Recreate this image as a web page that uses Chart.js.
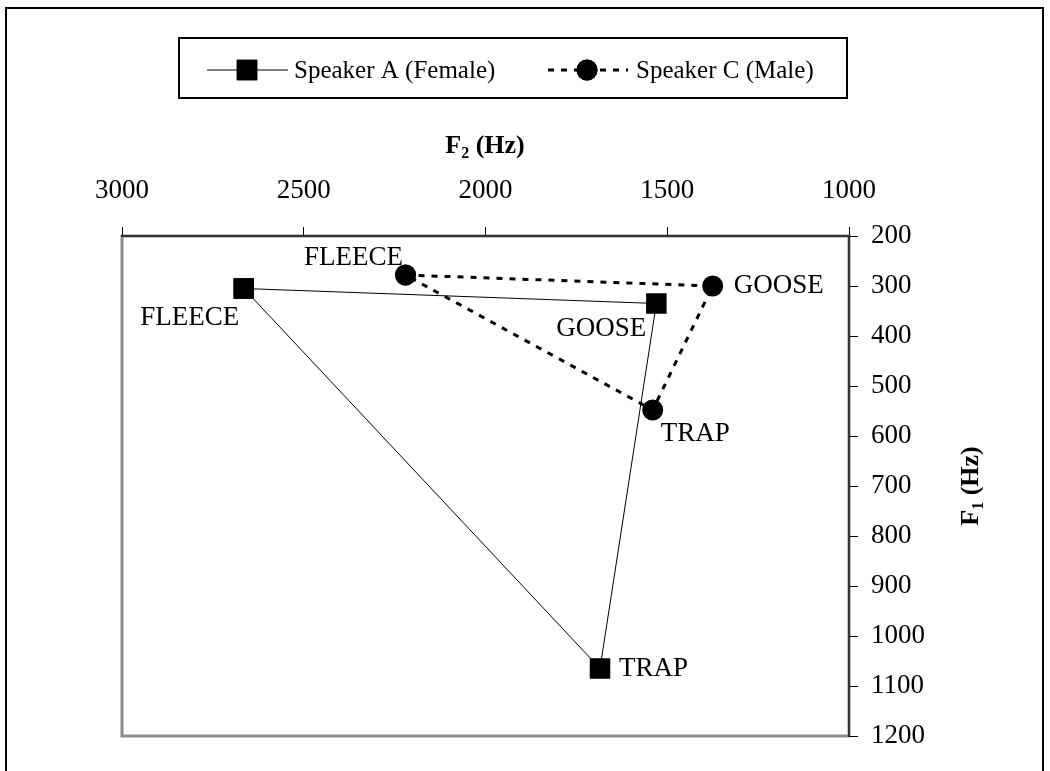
<!DOCTYPE html>
<html>
<head>
<meta charset="utf-8">
<script src="https://cdn.jsdelivr.net/npm/chart.js@4/dist/chart.umd.min.js"></script>
<style>
  html, body { margin: 0; padding: 0; background: #fff; }
  #wrap { position: relative; width: 1050px; height: 771px; }
</style>
</head>
<body>
<div id="wrap"><canvas id="vowelChart" width="1050" height="771"></canvas></div>
<script>
// ===== DATA =====
const VOWELS      = ['FLEECE', 'GOOSE', 'TRAP'];
const SPEAKERS    = ['Speaker A (Female)', 'Speaker C (Male)'];
const A_F2        = [2665, 1530, 1685];
const A_F1        = [305, 335, 1065];
const C_F2        = [2220, 1375, 1540];
const C_F1        = [278, 300, 548];
const F2_TICKS    = [3000, 2500, 2000, 1500, 1000];
const F1_TICKS    = [200, 300, 400, 500, 600, 700, 800, 900, 1000, 1100, 1200];

const SERIF = '"Liberation Serif", "Times New Roman", serif';

// close the triangle by returning to the first vowel
const toPts = (f2, f1) => f2.map((x, i) => ({ x, y: f1[i] })).concat([{ x: f2[0], y: f1[0] }]);

// label placement next to each marker: [dx, dy, align]
const LABEL_POS = [
  [[-54, 29, 'center'], [-55, 25, 'center'], [19, 0, 'left']],
  [[-52, -17, 'center'], [21, 0, 'left'], [8, 24, 'left']],
];

// ======== PLUGINS ========
const framePlugin = {
  id: 'frame',
  beforeDraw(chart) {
    const { ctx, chartArea: a } = chart;
    ctx.save();
    ctx.strokeStyle = '#000';
    ctx.lineWidth = 2;
    ctx.strokeRect(6, 8, 1037, 800);
    ctx.strokeStyle = '#8c8c8c';
    ctx.lineWidth = 3;
    ctx.strokeRect(a.left, a.top, a.right - a.left, a.bottom - a.top);
    ctx.restore();
  },
};

function drawSubText(ctx, x, y, main, sub, rest) {
  const big = 'bold 26px ' + SERIF, small = 'bold 16px ' + SERIF;
  ctx.font = big;  const w1 = ctx.measureText(main).width;
  ctx.font = small; const w2 = ctx.measureText(sub).width;
  ctx.font = big;  const w3 = ctx.measureText(rest).width;
  let cx = x - (w1 + w2 + w3) / 2;
  ctx.textAlign = 'left';
  ctx.textBaseline = 'alphabetic';
  ctx.font = big;   ctx.fillText(main, cx, y); cx += w1;
  ctx.font = small; ctx.fillText(sub, cx, y + 5); cx += w2;
  ctx.font = big;   ctx.fillText(rest, cx, y);
}

const decorPlugin = {
  id: 'decor',
  afterDraw(chart) {
    const { ctx } = chart;
    ctx.save();
    ctx.fillStyle = '#000';

    // axis titles
    drawSubText(ctx, 485, 153, 'F', '2', ' (Hz)');
    ctx.save();
    ctx.translate(978, 486);
    ctx.rotate(-Math.PI / 2);
    drawSubText(ctx, 0, 0, 'F', '1', ' (Hz)');
    ctx.restore();

    // vowel labels
    ctx.font = '27px ' + SERIF;
    ctx.textBaseline = 'middle';
    chart.data.datasets.forEach((ds, di) => {
      const meta = chart.getDatasetMeta(di);
      VOWELS.forEach((v, i) => {
        const p = meta.data[i];
        const [dx, dy, al] = LABEL_POS[di][i];
        ctx.textAlign = al;
        ctx.fillText(v, p.x + dx, p.y + dy);
      });
    });

    // legend box
    ctx.strokeStyle = '#000';
    ctx.lineWidth = 2;
    ctx.strokeRect(179, 38, 668, 60);
    const rows = [[207, 288, 247, 294], [548, 628, 587, 636]];
    ctx.font = '25px ' + SERIF;
    ctx.textAlign = 'left';
    chart.data.datasets.forEach((ds, di) => {
      const [x0, x1, px, tx] = rows[di];
      const y = 70;
      ctx.save();
      ctx.strokeStyle = ds.borderColor;
      ctx.lineWidth = ds.borderWidth;
      ctx.setLineDash(ds.borderDash || []);
      ctx.beginPath(); ctx.moveTo(x0, y); ctx.lineTo(x1, y); ctx.stroke();
      ctx.restore();
      Chart.helpers.drawPoint(ctx, {
        pointStyle: ds.pointStyle, radius: ds.pointRadius, borderWidth: 0,
      }, px, y);
      ctx.fillStyle = '#000';
      ctx.fill();
      ctx.fillText(ds.label, tx, y + 1);
    });
    ctx.restore();
  },
};

// ======== CHART ========
new Chart(document.getElementById('vowelChart'), {
  type: 'scatter',
  data: {
    datasets: [
      {
        label: SPEAKERS[0],
        data: toPts(A_F2, A_F1),
        showLine: true,
        borderColor: '#000',
        backgroundColor: '#000',
        borderWidth: 1,
        pointStyle: 'rect',
        pointRadius: 14.5,
        pointBorderWidth: 0,
      },
      {
        label: SPEAKERS[1],
        data: toPts(C_F2, C_F1),
        showLine: true,
        borderColor: '#000',
        backgroundColor: '#000',
        borderWidth: 3,
        borderDash: [6, 7],
        pointStyle: 'circle',
        pointRadius: 10.5,
        pointBorderWidth: 0,
      },
    ],
  },
  options: {
    responsive: false,
    animation: false,
    events: [],
    layout: { padding: { left: 122, top: 0, right: 0, bottom: 35 } },
    plugins: { legend: { display: false }, tooltip: { enabled: false } },
    scales: {
      x: {
        type: 'linear', position: 'top', reverse: true, min: 1000, max: 3000,
        afterFit: s => { s.height = 236; },
        afterBuildTicks: s => { s.ticks = F2_TICKS.map(v => ({ value: v })); },
        grid: { drawOnChartArea: false, tickLength: 9, color: '#000', lineWidth: 1 },
        border: { color: '#333', width: 2 },
        ticks: { color: '#000', padding: 20, maxRotation: 0, callback: v => String(v),
                 font: { family: SERIF, size: 27 } },
      },
      y: {
        type: 'linear', position: 'right', reverse: true, min: 200, max: 1200,
        afterFit: s => { s.width = 201; },
        afterBuildTicks: s => { s.ticks = F1_TICKS.map(v => ({ value: v })); },
        grid: { drawOnChartArea: false, tickLength: 9, color: '#000', lineWidth: 1 },
        border: { color: '#333', width: 2 },
        ticks: { color: '#000', padding: 13, callback: v => String(v),
                 font: { family: SERIF, size: 27 } },
      },
    },
  },
  plugins: [framePlugin, decorPlugin],
});
</script>
</body>
</html>
